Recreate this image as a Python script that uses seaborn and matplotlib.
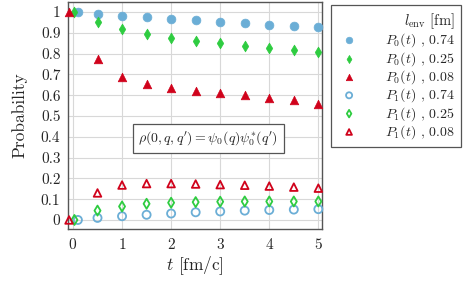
import numpy as np
import matplotlib
matplotlib.use("Agg")
import matplotlib.pyplot as plt
import seaborn as sns

# data
t = [0.5, 1.0, 1.5, 2.0, 2.5, 3.0, 3.5, 4.0, 4.5, 5.0]
t_start = {"0.74": 0.1, "0.25": 0.03, "0.08": -0.08}

p0_074 = [1.0, 0.990, 0.983, 0.975, 0.967, 0.960, 0.953, 0.946, 0.940, 0.934, 0.928]
p0_025 = [1.0, 0.952, 0.918, 0.895, 0.877, 0.862, 0.849, 0.838, 0.828, 0.818, 0.808]
p0_008 = [1.0, 0.775, 0.690, 0.655, 0.635, 0.622, 0.610, 0.600, 0.588, 0.575, 0.557]
p1_074 = [0.0, 0.010, 0.018, 0.025, 0.031, 0.037, 0.041, 0.045, 0.048, 0.050, 0.052]
p1_025 = [0.0, 0.045, 0.065, 0.078, 0.083, 0.086, 0.088, 0.089, 0.089, 0.089, 0.089]
p1_008 = [0.0, 0.130, 0.168, 0.175, 0.175, 0.173, 0.170, 0.167, 0.163, 0.158, 0.153]

blue = "#6baed6"
green = "#2ecc40"
red = "#d0021b"

sns.set_style("whitegrid")
plt.rcParams["font.family"] = "serif"
plt.rcParams["font.serif"] = ["cmr10", "DejaVu Serif"]
plt.rcParams["mathtext.fontset"] = "cm"
plt.rcParams["axes.formatter.use_mathtext"] = True

fig = plt.figure(figsize=(4.63, 2.84), dpi=100)
ax = fig.add_axes([0.147, 0.194, 0.548, 0.80])

series = [
    (p0_074, "0.74", "o", blue, True, 40, r"$P_0(t)$ , 0.74"),
    (p0_025, "0.25", "d", green, True, 30, r"$P_0(t)$ , 0.25"),
    (p0_008, "0.08", "^", red, True, 38, r"$P_0(t)$ , 0.08"),
    (p1_074, "0.74", "o", blue, False, 34, r"$P_1(t)$ , 0.74"),
    (p1_025, "0.25", "d", green, False, 26, r"$P_1(t)$ , 0.25"),
    (p1_008, "0.08", "^", red, False, 30, r"$P_1(t)$ , 0.08"),
]

for vals, key, mk, c, filled, s, lab in series:
    x = [t_start[key]] + t
    if filled:
        sns.scatterplot(x=x, y=vals, marker=mk, s=s, color=c, edgecolor=c,
                        linewidth=0.5, ax=ax, label=lab, clip_on=False, zorder=3)
    else:
        sns.scatterplot(x=x, y=vals, marker=mk, s=s, facecolor="none", edgecolor=c,
                        linewidth=1.3, ax=ax, label=lab, clip_on=False, zorder=3)

ax.set_xlim(-0.1, 5.07)
ax.set_ylim(-0.043, 1.05)
ax.set_xticks([0, 1, 2, 3, 4, 5])
ax.set_yticks(np.arange(0, 1.01, 0.1))
ax.set_yticklabels(["0", "0.1", "0.2", "0.3", "0.4", "0.5", "0.6", "0.7", "0.8", "0.9", "1"])
ax.tick_params(labelsize=11, pad=2)
ax.grid(True, color="#d8d8d8", linewidth=0.8)
for sp in ax.spines.values():
    sp.set_color("#555555")
    sp.set_linewidth(1.0)

ax.set_xlabel(r"$t$ [fm/c]", fontsize=12.5, labelpad=2)
ax.set_ylabel("Probability", fontsize=12.5, labelpad=10)

ax.text(2.76, 0.39, r"$\rho(0,q,q') = \psi_0(q)\psi_0^{*}(q')$", fontsize=10,
        ha="center", va="center",
        bbox=dict(boxstyle="square,pad=0.4", fc="white", ec="#555555", lw=0.9))

leg = ax.legend(loc="upper left", bbox_to_anchor=(0.715, 0.982),
                bbox_transform=fig.transFigure, title=r"$l_{\rm env}$ [fm]",
                fontsize=10, title_fontsize=10.5, frameon=True, fancybox=False,
                edgecolor="#555555", framealpha=1, alignment="right",
                handletextpad=1.7, labelspacing=0.04, borderpad=0.45,
                borderaxespad=0, markerscale=0.75, handlelength=1.7)
leg.get_frame().set_linewidth(0.9)

fig.savefig("out.png", dpi=100)
